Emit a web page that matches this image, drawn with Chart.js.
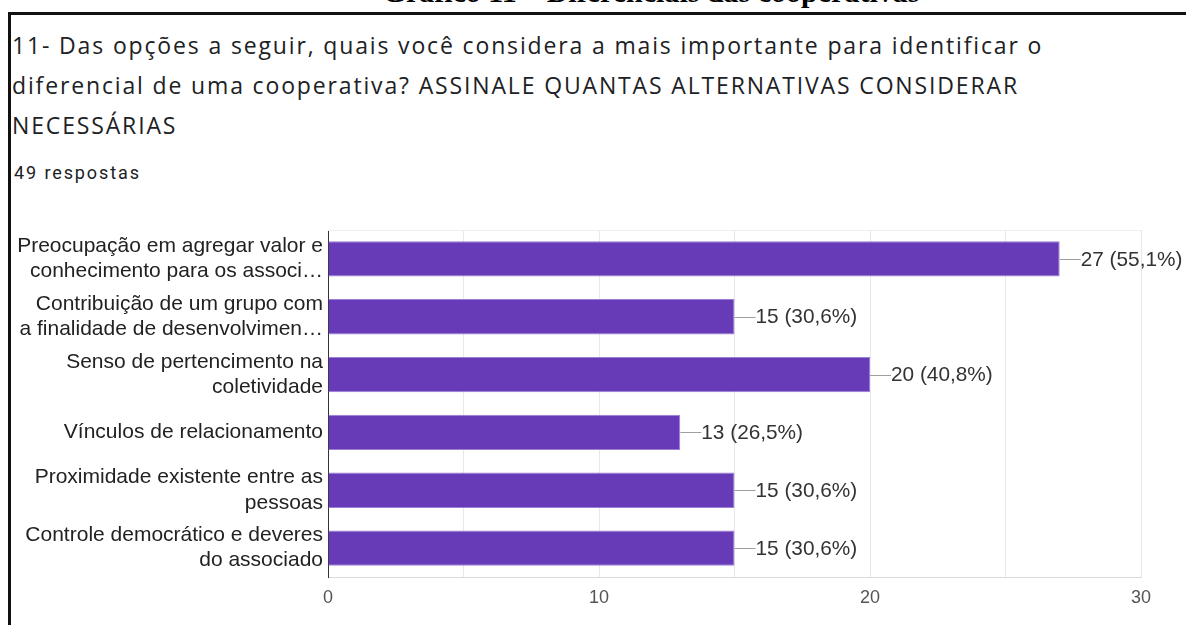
<!DOCTYPE html>
<html>
<head>
<meta charset="utf-8">
<script src="https://cdn.jsdelivr.net/npm/chart.js@4"></script>
<style>
  html, body { margin: 0; padding: 0; background: #fff; }
  body { width: 1186px; height: 625px; position: relative; overflow: hidden; }
  .caption { position: absolute; top: -25.5px; left: 0; width: 1302px; text-align: center;
    font: bold 30px "Liberation Serif", "Times New Roman", serif; line-height: 34px; color: #000; white-space: nowrap; }
  .frame { position: absolute; left: 8px; top: 12px; width: 1300px; height: 700px;
    border-top: 3px solid #111; border-left: 3px solid #111; }
  .title { position: absolute; left: 12px; top: 25px; font: 23px "Open Sans", sans-serif; letter-spacing: 1.85px;
    line-height: 40px; color: #202124; white-space: nowrap; }
  .count { position: absolute; left: 14px; top: 163px; font: 18px Roboto, sans-serif; letter-spacing: 1.9px;
    line-height: 20px; color: #202124; }
  #chart { position: absolute; left: 0; top: 0; }
</style>
</head>
<body>
<div class="caption">Gráfico 11 – Diferenciais das cooperativas</div>
<div class="frame"></div>
<div class="title">11- Das opções a seguir, quais você considera a mais importante para identificar o<br>diferencial de uma cooperativa? ASSINALE QUANTAS ALTERNATIVAS CONSIDERAR<br>NECESSÁRIAS</div>
<div class="count">49 respostas</div>
<canvas id="chart" width="1186" height="625"></canvas>
<script>
const labels = [
  ['Preocupação em agregar valor e', 'conhecimento para os associ…'],
  ['Contribuição de um grupo com', 'a finalidade de desenvolvimen…'],
  ['Senso de pertencimento na', 'coletividade'],
  'Vínculos de relacionamento',
  ['Proximidade existente entre as', 'pessoas'],
  ['Controle democrático e deveres', 'do associado']
];
const counts = [27, 15, 20, 13, 15, 15];
const totalResponses = 49;
const xTickLabels = [0, 10, 20, 30];

// value labels "—27 (55,1%)" at the end of each bar
const valueLabels = {
  id: 'valueLabels',
  afterDatasetsDraw(chart) {
    const ctx = chart.ctx;
    const meta = chart.getDatasetMeta(0);
    ctx.save();
    ctx.font = '20.8px "Liberation Sans", Arial, sans-serif';
    ctx.textBaseline = 'middle';
    meta.data.forEach((bar, i) => {
      const v = counts[i];
      const pct = (v / totalResponses * 100).toFixed(1).replace('.', ',');
      ctx.strokeStyle = '#9e9e9e';
      ctx.lineWidth = 1;
      ctx.beginPath();
      ctx.moveTo(bar.x, Math.round(bar.y) + 0.5);
      ctx.lineTo(bar.x + 21, Math.round(bar.y) + 0.5);
      ctx.stroke();
      ctx.fillStyle = '#333';
      ctx.fillText(v + ' (' + pct + '%)', bar.x + 21, bar.y + 1);
    });
    ctx.restore();
  }
};

// faint top edge of the plot area
const topEdge = {
  id: 'topEdge',
  beforeDatasetsDraw(chart) {
    const a = chart.chartArea;
    const ctx = chart.ctx;
    ctx.save();
    ctx.strokeStyle = '#eeeeee';
    ctx.beginPath();
    ctx.moveTo(a.left, a.top + 0.5);
    ctx.lineTo(a.right, a.top + 0.5);
    ctx.stroke();
    ctx.restore();
  }
};

new Chart(document.getElementById('chart'), {
  type: 'bar',
  data: {
    labels: labels,
    datasets: [{
      data: counts,
      backgroundColor: '#673ab7',
      borderColor: '#9b7fd4',
      borderWidth: 1,
      barPercentage: 0.61,
      categoryPercentage: 1
    }]
  },
  options: {
    indexAxis: 'y',
    responsive: false,
    animation: false,
    layout: { padding: { top: 230, right: 45, left: 0, bottom: 0 } },
    plugins: { legend: { display: false }, tooltip: { enabled: false } },
    scales: {
      x: {
        min: 0,
        max: 30,
        afterFit: s => { s.height = 48; },
        ticks: {
          stepSize: 5,
          autoSkip: false,
          maxRotation: 0,
          padding: 10,
          color: '#555',
          font: { family: '"Liberation Sans", Arial, sans-serif', size: 18 },
          callback: v => xTickLabels.includes(v) ? v : ''
        },
        grid: { color: '#e8e8e8', drawTicks: false },
        border: { color: '#dadada' }
      },
      y: {
        afterFit: s => { s.width = 328; },
        ticks: {
          padding: 5,
          color: '#222',
          font: { family: '"Liberation Sans", Arial, sans-serif', size: 21, lineHeight: 1.2 }
        },
        grid: { display: true, color: 'transparent', drawTicks: false },
        border: { color: '#333', width: 1 }
      }
    }
  },
  plugins: [topEdge, valueLabels]
});
</script>
</body>
</html>
